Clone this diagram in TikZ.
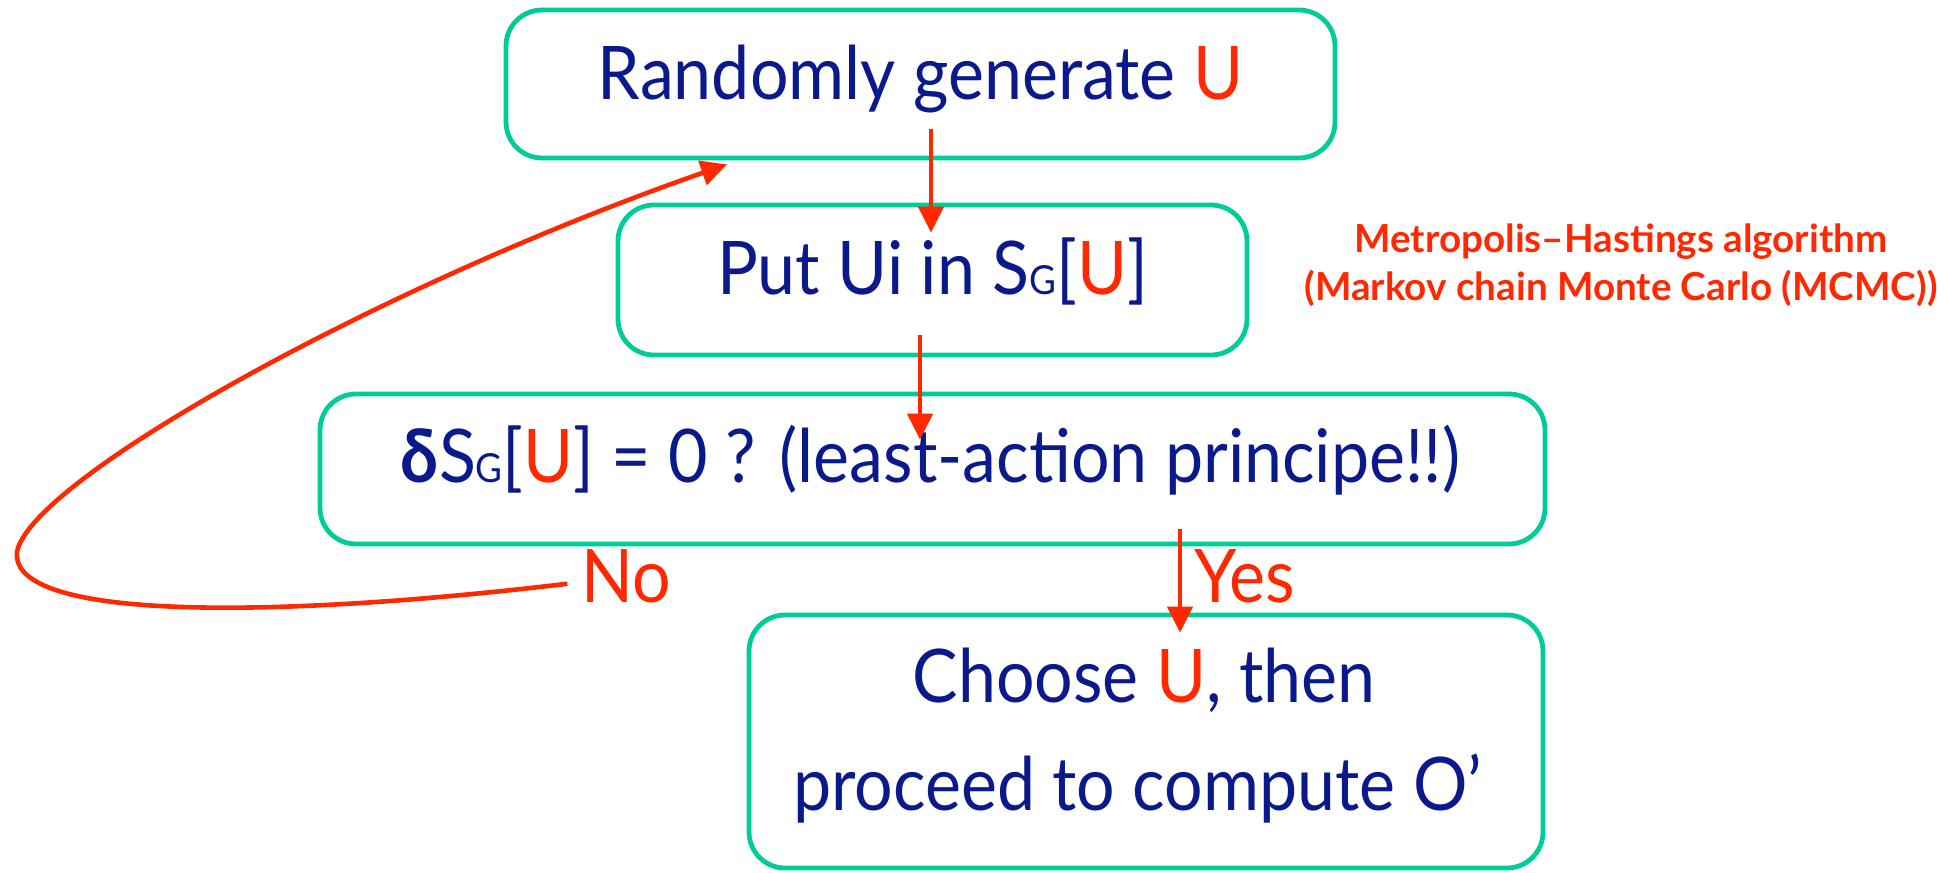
\documentclass[tikz,border=0pt]{standalone}
\usepackage{fontspec}
\setmainfont{Lato}[FakeStretch=0.92]
\newfontfamily\notefont{Lato}
\usetikzlibrary{arrows.meta}
\definecolor{tealbox}{RGB}{0,204,153}
\definecolor{navytxt}{RGB}{10,26,140}
\definecolor{redtxt}{RGB}{255,40,0}
\newcommand{\RU}{\textcolor{redtxt}{U}}
\newcommand{\subG}{{\fontsize{20pt}{20pt}\selectfont G}}
\begin{document}
\begin{tikzpicture}[x=0.5pt,y=-0.5pt,
  flowbox/.style={draw=tealbox,line width=2.4pt,rounded corners=18pt,inner sep=0pt},
  boxtext/.style={anchor=base,inner sep=0pt,text=navytxt,font=\fontsize{37pt}{44pt}\selectfont},
  redlabel/.style={anchor=base,inner sep=0pt,text=redtxt,font=\fontsize{37pt}{44pt}\selectfont},
  notetext/.style={anchor=base,inner sep=0pt,text=redtxt,font=\notefont\bfseries\fontsize{19.3pt}{24pt}\selectfont},
  flow/.style={draw=redtxt,line width=2.3pt,-{Triangle[length=13pt,width=12.5pt]}}
]
\useasboundingbox (0,0) rectangle (1957,872);
% boxes
\node[flowbox,minimum width=414.5pt,minimum height=74pt] (b1) at (920.5,84) {};
\node[flowbox,minimum width=314.5pt,minimum height=75pt] (b2) at (932.5,280) {};
\node[flowbox,minimum width=612.5pt,minimum height=75pt] (b3) at (932.5,469) {};
\node[flowbox,minimum width=397pt,minimum height=126.5pt] (b4) at (1146,741.5) {};
% texts
\node[boxtext] (t1) at (920.5,99) {Randomly generate \RU};
\node[boxtext] (t2) at (932.5,294) {Put Ui in S\subG[\RU]};
\node[boxtext] (t3) at (930.5,482) {{\bfseries δ}S\subG[\RU] = 0 ? (least-action principe!!)};
\node[boxtext] (t4a) at (1144,702) {Choose \RU, then};
\node[boxtext] (t4b) at (1137.5,810) {proceed to compute O’};
\node[redlabel] (yes) at (1245,602) {Yes};
\node[redlabel] (no) at (626.5,602) {No};
\node[notetext] (m1) at (1621,252) {Metropolis–Hastings algorithm};
\node[notetext] (m2) at (1621,300) {(Markov chain Monte Carlo (MCMC))};
% connectors
\draw[flow] ([xshift=5.25pt,yshift=15.5pt]b1.south) -- ([xshift=-0.75pt,yshift=-15pt]b2.north);
\draw[flow] ([xshift=-6.25pt,yshift=11pt]b2.south) -- ([xshift=-6.25pt,yshift=-24pt]b3.north);
\draw[flow] ([xshift=123.75pt,yshift=8.5pt]b3.south) -- ([xshift=17pt,yshift=-10pt]b4.north);
\coordinate (loopleft) at (17,552);
\draw[flow] ([xshift=-7pt,yshift=-4pt]no.west) .. controls (280,618) and (10,622) .. (loopleft)
  .. controls (30,480) and (380,285) .. ([xshift=-96.75pt,yshift=-2pt]b1.south);
\end{tikzpicture}
\end{document}
